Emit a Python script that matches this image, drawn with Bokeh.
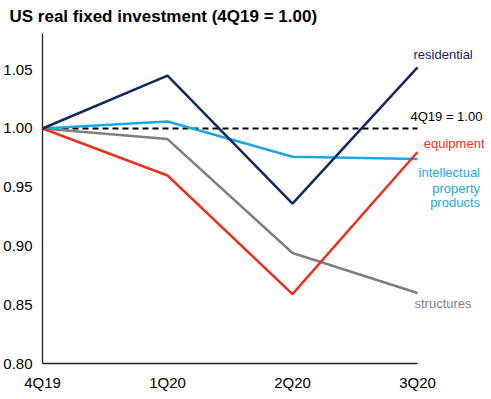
from bokeh.plotting import figure
from bokeh.models import FixedTicker, NumeralTickFormatter, Range1d, Label
from bokeh.embed import file_html
from bokeh.resources import INLINE

quarters = ["4Q19", "1Q20", "2Q20", "3Q20"]
residential = [1.00, 1.045, 0.936, 1.052]
equipment = [1.00, 0.960, 0.859, 0.980]
ipp = [1.00, 1.006, 0.976, 0.974]
structures = [1.00, 0.991, 0.894, 0.860]
baseline = 1.00
y_ticks = [0.80, 0.85, 0.90, 0.95, 1.00, 1.05]

NAVY = "#13285e"
RED = "#e8321e"
CYAN = "#1ba7e3"
GRAY = "#7f7f7f"
FONT = "Liberation Sans"

xs = list(range(len(quarters)))

p = figure(width=475, height=383, output_backend="svg", toolbar_location=None,
           frame_width=442, frame_height=333,
           x_range=Range1d(0, 3.536), y_range=Range1d(0.80, 1.0834),
           min_border_left=33, min_border_right=0, min_border_bottom=22, min_border_top=0,
           title="US real fixed investment (4Q19 = 1.00)")
p.title.text_font = FONT
p.title.text_font_size = "17px"
p.title.text_font_style = "bold"
p.title.text_color = "#000000"
p.title.offset = -33
p.title.standoff = 9
p.outline_line_color = None
p.xgrid.visible = False
p.ygrid.visible = False
p.background_fill_color = "white"
p.border_fill_color = "white"

# dashed baseline
p.line([xs[0], xs[-1]], [baseline, baseline], line_color="black", line_width=2, line_dash="6 4")

p.line(xs, structures, line_color=GRAY, line_width=2.5)
p.line(xs, ipp, line_color=CYAN, line_width=2.5)
p.line(xs, equipment, line_color=RED, line_width=2.5)
p.line(xs, residential, line_color=NAVY, line_width=2.5)

for ax in (p.xaxis[0], p.yaxis[0]):
    ax.axis_line_color = "#222222"
    ax.axis_line_width = 1.3
    ax.major_tick_line_color = None
    ax.minor_tick_line_color = None
    ax.major_label_text_font = FONT
    ax.major_label_text_font_size = "15px"
    ax.major_label_text_color = "#000000"

p.xaxis.ticker = FixedTicker(ticks=xs)
p.xaxis.major_label_overrides = {i: q for i, q in enumerate(quarters)}
p.xaxis.bounds = (0, 3)
p.xaxis.major_label_standoff = 4

p.yaxis.ticker = FixedTicker(ticks=y_ticks)
p.yaxis.formatter = NumeralTickFormatter(format="0.00")
p.yaxis.bounds = (0.80, 1.081)
p.yaxis.major_label_standoff = 4

def lab(text, x, y, color, align="left"):
    p.add_layout(Label(x=x, y=y, text=text, text_color=color, text_font=FONT,
                       text_font_size="13px", text_align=align, text_baseline="middle"))

lab("residential", 2.968, 1.063, NAVY)
lab("4Q19 = 1.00", 2.944, 1.0102, "#000000")
lab("equipment", 3.536, 0.987, RED, "right")
lab("intellectual", 3.5, 0.9625, CYAN, "right")
lab("property", 3.5, 0.9489, CYAN, "right")
lab("products", 3.5, 0.9370, CYAN, "right")
lab("structures", 2.976, 0.851, GRAY)

open("out.html", "w").write(file_html(p, INLINE))
